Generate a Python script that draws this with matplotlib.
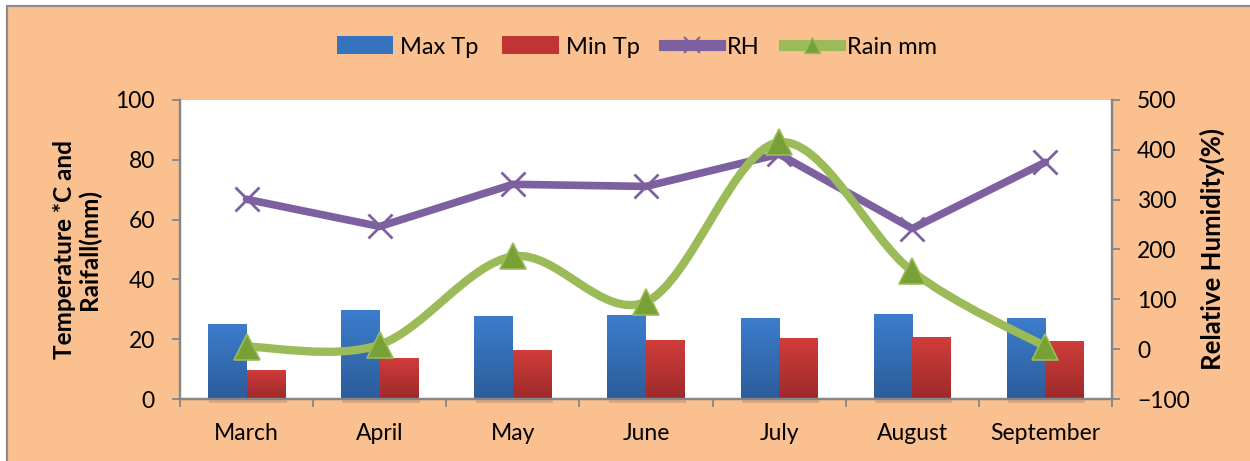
import numpy as np
import matplotlib
matplotlib.use("Agg")
import matplotlib.pyplot as plt
from matplotlib.colors import LinearSegmentedColormap
from matplotlib.patches import Rectangle, Patch
from matplotlib.path import Path
from matplotlib.patches import PathPatch
from matplotlib.lines import Line2D

plt.rcParams["font.family"] = ["Lato", "DejaVu Sans"]

months = ["March", "April", "May", "June", "July", "August", "September"]
max_tp = [25.2, 29.9, 27.9, 28.2, 27.2, 28.5, 27.2]
min_tp = [9.7, 13.8, 16.4, 19.8, 20.5, 20.8, 19.5]
rh = [66.8, 57.7, 71.8, 71.1, 81.9, 57.0, 79.2]
rain_mm = [5, 9, 186, 95, 415, 156, 5]

BG = "#FAC090"
AXIS_GREY = "#868686"
PURPLE = "#7D60A0"
GREEN = "#9BBB59"

fig = plt.figure(figsize=(12.5, 4.61), dpi=100)
fig.patch.set_facecolor("white")
# orange chart area with a grey border on the visible edges
fig.patches.append(Rectangle((7 / 1250, -0.05), 1.1, 1 - 6 / 461 + 0.05,
                             transform=fig.transFigure, facecolor=BG,
                             edgecolor="#8C8C8C", linewidth=1.6, zorder=-10))

ax = fig.add_axes([180 / 1250, 1 - 399 / 461, 932 / 1250, 299 / 461])
ax.set_facecolor("white")
ax2 = ax.twinx()
ax2.patch.set_visible(False)

x = np.arange(len(months))
bw = 0.29

blue_cmap = LinearSegmentedColormap.from_list("blue", ["#2D5C9A", "#3C7DCD"])
red_cmap = LinearSegmentedColormap.from_list("red", ["#9E2A2B", "#D03D3A"])
grad = np.linspace(0, 1, 64).reshape(-1, 1)


def gradient_bars(xs, heights, cmap):
    bars = ax.bar(xs, heights, width=bw, color="none", zorder=2)
    for b in bars:
        x0, w, h = b.get_x(), b.get_width(), b.get_height()
        im = ax.imshow(grad, extent=[x0, x0 + w, 0, h], origin="lower",
                       cmap=cmap, aspect="auto", zorder=2)
        im.set_clip_path(b)
        # soft shadow under each bar
        ax.add_patch(Rectangle((x0 + 0.01, -1.2), w, 1.2, facecolor="#000000",
                               alpha=0.12, edgecolor="none", zorder=1,
                               clip_on=False))


gradient_bars(x - bw / 2, max_tp, blue_cmap)
gradient_bars(x + bw / 2, min_tp, red_cmap)

ax.plot(x, rh, color=PURPLE, linewidth=5.5, marker="x", markersize=17,
        markeredgewidth=2, markeredgecolor=PURPLE, zorder=4,
        solid_joinstyle="round", solid_capstyle="round")


def smooth_path(xs, ys):
    pts = np.column_stack([xs, ys]).astype(float)
    padded = np.vstack([pts[0], pts, pts[-1]])
    verts = [pts[0]]
    codes = [Path.MOVETO]
    for i in range(len(pts) - 1):
        p0, p1, p2, p3 = padded[i], padded[i + 1], padded[i + 2], padded[i + 3]
        verts += [p1 + (p2 - p0) / 6, p2 - (p3 - p1) / 6, p2]
        codes += [Path.CURVE4] * 3
    return Path(verts, codes)


ax2.add_patch(PathPatch(smooth_path(x, rain_mm), facecolor="none",
                        edgecolor=GREEN, linewidth=6, capstyle="round",
                        zorder=3))
ax2.plot(x, rain_mm, linestyle="none", marker="^", markersize=19,
         markerfacecolor="#77A036", markeredgecolor=GREEN,
         markeredgewidth=1.2, zorder=5)

ax.set_xlim(-0.5, len(months) - 0.5)
ax.set_ylim(0, 100)
ax2.set_ylim(-100, 500)
ax.set_yticks(range(0, 101, 20))
ax2.set_yticks(range(-100, 501, 100))

ax.set_xticks(np.arange(-0.5, len(months), 1))
ax.set_xticklabels([])
ax.set_xticks(x, minor=True)
ax.set_xticklabels(months, minor=True)
ax.tick_params(axis="x", which="minor", length=0, pad=17, labelsize=16.5)
ax.tick_params(axis="x", which="major", length=6, width=1.3,
               color=AXIS_GREY, direction="out")
ax.tick_params(axis="y", length=6, width=1.3, color=AXIS_GREY, pad=12,
               labelsize=16.5)
ax2.tick_params(axis="y", length=6, width=1.3, color=AXIS_GREY, pad=12,
                labelsize=16.5)

for a in (ax, ax2):
    for side in ("left", "right", "bottom"):
        a.spines[side].set_color(AXIS_GREY)
        a.spines[side].set_linewidth(1.6)
    a.spines["top"].set_visible(False)

ax.set_ylabel("Temperature *C and\nRaifall(mm)", fontsize=17.5,
              fontweight="bold", linespacing=1.05)
ax.yaxis.set_label_coords(-0.085, 0.5)
ax2.set_ylabel("Relative Humidity(%)", fontsize=18.5, fontweight="bold")
ax2.yaxis.set_label_coords(1.094, 0.5)

handles = [
    Patch(facecolor="#3573BE", label="Max Tp"),
    Patch(facecolor="#BF3533", label="Min Tp"),
    Line2D([], [], color=PURPLE, linewidth=8, marker="x", markersize=12,
           markeredgewidth=1.5, label="RH"),
    Line2D([], [], color=GREEN, linewidth=8, marker="^", markersize=12,
           markerfacecolor="#77A036", label="Rain mm"),
]
fig.legend(handles=handles, loc="center", bbox_to_anchor=(637 / 1250, 1 - 47 / 461),
           ncol=4, frameon=False, fontsize=17, handlelength=2.4,
           handletextpad=0.3, columnspacing=1.0, handleheight=0.8)

fig.savefig("out.png", dpi=100, facecolor=fig.get_facecolor())
